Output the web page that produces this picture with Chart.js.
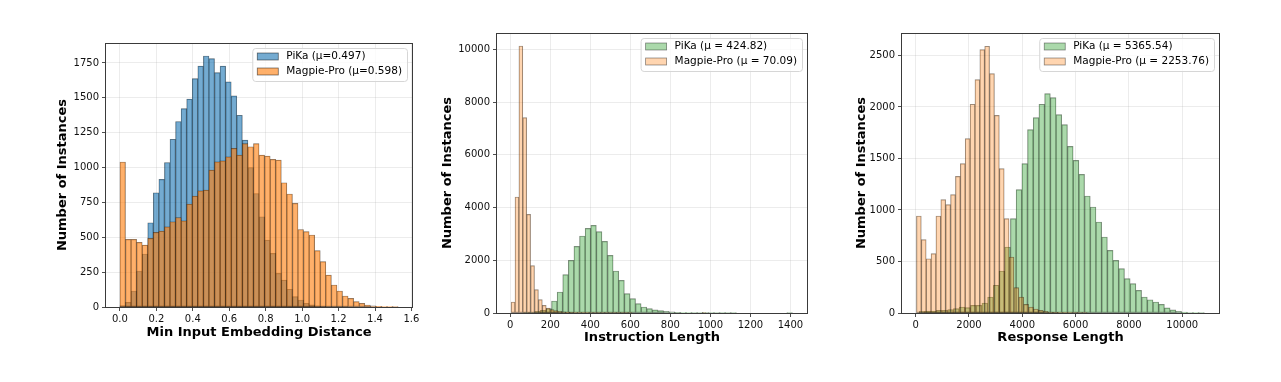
<!DOCTYPE html>
<html>
<head>
<meta charset="utf-8">
<script src="https://cdn.jsdelivr.net/npm/chart.js@4.4.1/dist/chart.umd.min.js"></script>
<style>
  html, body { margin: 0; padding: 0; background: #fff; }
  #wrap { position: relative; width: 1281px; height: 382px; }
  canvas { position: absolute; top: 0; }
</style>
</head>
<body>
<div id="wrap">
  <canvas id="distChart" width="430" height="382" style="left:0"></canvas>
  <canvas id="instrChart" width="410" height="382" style="left:430px"></canvas>
  <canvas id="respChart" width="441" height="382" style="left:840px"></canvas>
</div>
<script>
// histogram counts, 50 bins each

// panel 1 : min input embedding distance
const distBinStart = 0, distBinWidth = 0.03054
const pikaDist = [10, 33, 115, 258, 380, 604, 819, 915, 1036, 1203, 1330, 1423, 1490, 1638, 1727, 1800, 1781, 1681, 1727, 1614,
    1514, 1375, 1196, 1000, 814, 647, 480, 385, 241, 193, 127, 74, 50, 26, 15, 8, 5, 3, 2, 1,
    1, 0, 0, 0, 0, 0, 0, 0, 0, 0]
const magpieDist = [1040, 485, 485, 463, 444, 492, 535, 544, 575, 611, 642, 618, 738, 795, 833, 838, 981, 1041, 1048, 1077,
    1137, 1089, 1172, 1149, 1172, 1089, 1082, 1058, 1053, 891, 810, 743, 556, 540, 516, 404, 325, 229, 158, 115,
    79, 62, 38, 26, 14, 8, 5, 3, 2, 1]
const distTicksX = [0, 0.2, 0.4, 0.6, 0.8, 1.0, 1.2, 1.4, 1.6]
const distTicksY = [0, 250, 500, 750, 1000, 1250, 1500, 1750]

// panel 2 : instruction length
const pikaInstrStart = 10, pikaInstrWidth = 28
const magpieInstrStart = 4, magpieInstrWidth = 19.5
const pikaInstr = [0, 0, 5, 20, 63, 100, 165, 455, 797, 1455, 1999, 2530, 2922, 3213, 3327, 3087, 2720, 2188, 1594, 1240,
    734, 544, 354, 228, 165, 120, 90, 60, 40, 25, 15, 10, 6, 4, 3, 2, 2, 1, 1, 1,
    0, 0, 0, 0, 0, 0, 0, 0, 0, 1]
const magpieInstr = [417, 4402, 10133, 7413, 3744, 1796, 886, 506, 290, 190, 127, 90, 63, 45, 32, 24, 18, 13, 10, 8,
    6, 5, 4, 3, 3, 2, 2, 1, 1, 1, 1, 0, 0, 0, 0, 0, 0, 0, 0, 0,
    0, 0, 0, 0, 0, 0, 0, 0, 0, 1]
const instrTicksX = [0, 200, 400, 600, 800, 1000, 1200, 1400]
const instrTicksY = [0, 2000, 4000, 6000, 8000, 10000]

// panel 3 : response length
const pikaRespStart = 130, pikaRespWidth = 214
const magpieRespStart = 27, magpieRespWidth = 183
const pikaResp = [16, 19, 19, 26, 26, 32, 42, 58, 52, 74, 74, 97, 155, 269, 408, 641, 916, 1197, 1450, 1780,
    1896, 2026, 2129, 2090, 1925, 1828, 1618, 1482, 1346, 1136, 1029, 883, 738, 608, 511, 430, 333, 285, 220, 155,
    129, 107, 84, 50, 30, 15, 8, 5, 3, 1]
const magpieResp = [942, 712, 527, 576, 942, 1100, 1052, 1149, 1327, 1450, 1692, 2026, 2265, 2556, 2589, 2323, 1919, 1401, 916, 544,
    246, 155, 84, 58, 39, 26, 15, 10, 6, 4, 3, 2, 1, 1, 1, 0, 0, 0, 0, 0,
    0, 0, 0, 0, 0, 0, 0, 0, 0, 0]
const respTicksX = [0, 2000, 4000, 6000, 8000, 10000]
const respTicksY = [0, 500, 1000, 1500, 2000, 2500]


Chart.defaults.font.family = '"DejaVu Sans", sans-serif'
Chart.defaults.font.size = 10
Chart.defaults.color = '#111'

function toBins(counts, start, width) {
    return counts.map((c, i) => ({ x: start + (i + 0.5) * width, y: c }))
}

// matplotlib-like legend box in the upper right corner
const boxLegend = {
    id: 'boxLegend',
    afterDatasetsDraw(chart) {
        const { ctx, chartArea: a } = chart
        const sets = chart.data.datasets
        ctx.save()
        ctx.font = '10.5px "DejaVu Sans"'
        const textW = Math.max(...sets.map(d => ctx.measureText(d.label).width))
        const pad = 4, handle = 21, gap = 8, row = 15
        const w = pad + handle + gap + textW + pad + 2
        const h = 8 + row * (sets.length - 1) + 10
        const x0 = a.right - 5 - w, y0 = a.top + 5
        ctx.beginPath()
        ctx.roundRect(x0 + 0.5, y0 + 0.5, w, h, 3)
        ctx.fillStyle = 'rgba(255,255,255,0.8)'
        ctx.fill()
        ctx.strokeStyle = '#d6d6d6'
        ctx.lineWidth = 1
        ctx.stroke()
        sets.forEach((d, i) => {
            const cy = y0 + 8.5 + row * i
            ctx.fillStyle = d.backgroundColor
            ctx.fillRect(x0 + pad + 1, cy - 3.5, handle, 7)
            ctx.strokeStyle = d.borderColor
            ctx.lineWidth = 0.8
            ctx.strokeRect(x0 + pad + 1, cy - 3.5, handle, 7)
            ctx.fillStyle = '#000'
            ctx.textBaseline = 'middle'
            ctx.fillText(d.label, x0 + pad + 1 + handle + gap, cy)
        })
        ctx.restore()
    }
}

// axes frame on all four sides
const frame = {
    id: 'frame',
    afterDraw(chart) {
        const { ctx, chartArea: a } = chart
        ctx.save()
        ctx.strokeStyle = '#3a3a3a'
        ctx.lineWidth = 1
        ctx.strokeRect(a.left - 0.5, a.top + 0.5, a.right - a.left + 1, a.bottom - a.top)
        ctx.restore()
    }
}

function histChart(id, o) {
    const barStyle = {
        borderColor: o.edge,
        borderWidth: 0.5,
        borderSkipped: false,
        barPercentage: 1,
        categoryPercentage: 1,
        grouped: false,
    }
    const grid = {
        color: 'rgba(176,176,176,0.3)',
        lineWidth: 0.8,
        tickColor: '#222',
        tickLength: 4,
        tickWidth: 0.8,
        offset: false,
    }
    return new Chart(document.getElementById(id), {
        type: 'bar',
        data: {
            datasets: [{
                ...barStyle,
                label: o.labels[0],
                data: o.pika,
                xAxisID: 'x',
                backgroundColor: o.colors[0],
                order: 2,
            }, {
                ...barStyle,
                label: o.labels[1],
                data: o.magpie,
                xAxisID: 'xm',
                backgroundColor: o.colors[1],
                order: 1,
            }]
        },
        options: {
            responsive: false,
            animation: false,
            layout: { padding: o.padding },
            plugins: { legend: { display: false }, tooltip: { enabled: false } },
            scales: {
                x: {
                    type: 'linear',
                    offset: false,
                    min: o.xMin,
                    max: o.xMax,
                    afterBuildTicks: s => { s.ticks = o.xTicks.map(v => ({ value: v })) },
                    afterFit: s => { s.height = o.xHeight },
                    grid: grid,
                    border: { display: false },
                    ticks: { callback: o.xFmt, autoSkip: false, maxRotation: 0, padding: 2, color: '#111' },
                    title: {
                        display: true, text: o.xTitle, color: '#000',
                        font: { size: 13, weight: 'bold' },
                        padding: { top: 0, bottom: o.xTitlePad }
                    }
                },
                xm: { type: 'linear', display: false, offset: false, min: o.xMin, max: o.xMax },
                y: {
                    min: 0,
                    max: o.yMax,
                    afterBuildTicks: s => { s.ticks = o.yTicks.map(v => ({ value: v })) },
                    afterFit: s => { s.width = o.yWidth },
                    grid: grid,
                    border: { display: false },
                    ticks: { callback: v => String(v), padding: 3, color: '#111' },
                    title: {
                        display: true, text: 'Number of Instances', color: '#000',
                        font: { size: 13, weight: 'bold' },
                        padding: { top: o.yTitlePad, bottom: 0 }
                    }
                }
            }
        },
        plugins: [boxLegend, frame]
    })
}

const distChart = histChart('distChart', {
    labels: ['PiKa (\u03bc=0.497)', 'Magpie-Pro (\u03bc=0.598)'],
    pika: toBins(pikaDist, distBinStart, distBinWidth),
    magpie: toBins(magpieDist, distBinStart, distBinWidth),
    colors: ['rgba(31,119,180,0.62)', 'rgba(255,127,14,0.62)'],
    edge: 'rgba(0,0,0,0.55)',
    xMin: -0.0764, xMax: 1.603, xTicks: distTicksX, xFmt: v => v.toFixed(1),
    yMax: 1893, yTicks: distTicksY,
    xTitle: 'Min Input Embedding Distance',
    padding: { left: 0, top: 43, right: 18, bottom: 0 },
    yWidth: 106, xHeight: 75, xTitlePad: 42, yTitlePad: 55,
})

const instrChart = histChart('instrChart', {
    labels: ['PiKa (\u03bc = 424.82)', 'Magpie-Pro (\u03bc = 70.09)'],
    pika: toBins(pikaInstr, pikaInstrStart, pikaInstrWidth),
    magpie: toBins(magpieInstr, magpieInstrStart, magpieInstrWidth),
    colors: ['rgba(44,160,44,0.4)', 'rgba(255,127,14,0.33)'],
    edge: 'rgba(0,0,0,0.45)',
    xMin: -66.5, xMax: 1483, xTicks: instrTicksX, xFmt: v => String(v),
    yMax: 10626, yTicks: instrTicksY,
    xTitle: 'Instruction Length',
    padding: { left: 0, top: 33, right: 33, bottom: 0 },
    yWidth: 67, xHeight: 69, xTitlePad: 37, yTitlePad: 10,
})

const respChart = histChart('respChart', {
    labels: ['PiKa (\u03bc = 5365.54)', 'Magpie-Pro (\u03bc = 2253.76)'],
    pika: toBins(pikaResp, pikaRespStart, pikaRespWidth),
    magpie: toBins(magpieResp, magpieRespStart, magpieRespWidth),
    colors: ['rgba(44,160,44,0.4)', 'rgba(255,127,14,0.33)'],
    edge: 'rgba(0,0,0,0.45)',
    xMin: -514, xMax: 11381, xTicks: respTicksX, xFmt: v => String(v),
    yMax: 2718, yTicks: respTicksY,
    xTitle: 'Response Length',
    padding: { left: 0, top: 33, right: 62, bottom: 0 },
    yWidth: 62, xHeight: 69, xTitlePad: 37, yTitlePad: 14,
})
</script>
</body>
</html>
